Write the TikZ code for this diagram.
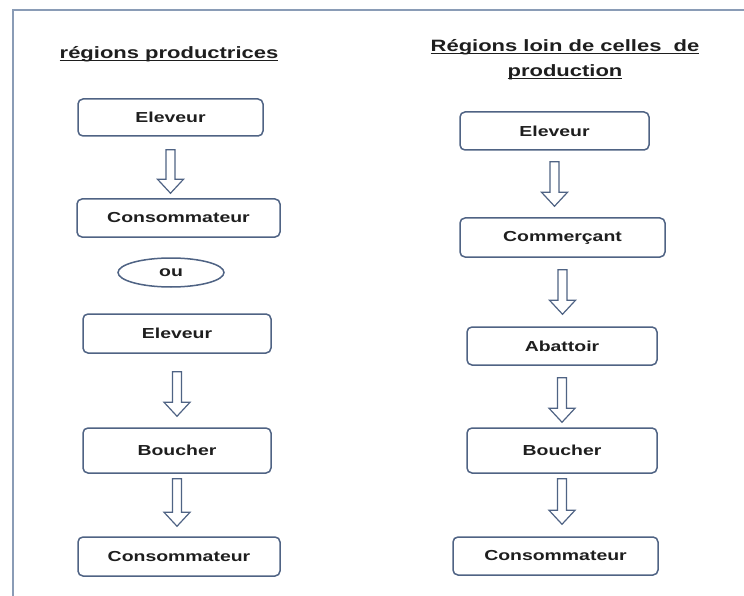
\documentclass[tikz,border=0pt]{standalone}
\usepackage{fontspec}
\usetikzlibrary{shapes.geometric,calc}
\newfontfamily\widefont[FakeStretch=1.34]{Liberation Sans}
\definecolor{framec}{HTML}{8A9CB6}
\definecolor{boxc}{HTML}{4F6384}
\definecolor{txtc}{HTML}{1E1E1E}
\tikzset{
  x=1pt, y=-1pt,
  stepbox/.style={draw=boxc, line width=1.5pt, fill=white, rounded corners=5pt,
    inner sep=0pt, text=txtc, font=\widefont\bfseries\fontsize{14.5}{16}\selectfont},
  ovalbox/.style={ellipse, draw=boxc, line width=1.5pt, fill=white, inner sep=0pt,
    text=txtc, font=\widefont\bfseries\fontsize{14.5}{16}\selectfont},
  titlebox/.style={text=txtc, align=center, inner sep=0pt,
    font=\widefont\bfseries\fontsize{16.4}{25}\selectfont},
  barrow/.style={draw=boxc, line width=1.2pt, fill=white, line join=miter,
    to path={let \p1=(\tikztostart), \p2=(\tikztotarget) in
      (\x1-4.5pt,\y1) -- (\x1+4.5pt,\y1) -- (\x1+4.5pt,\y2+14pt) -- (\x1+13pt,\y2+14pt)
      -- (\x1,\y2) -- (\x1-13pt,\y2+14pt) -- (\x1-4.5pt,\y2+14pt) -- cycle}},
  framel/.style={draw=framec, line width=2pt}
}
\newcommand{\ul}[1]{\underline{\smash{#1}}}
\begin{document}
\begin{tikzpicture}
\useasboundingbox (0,0) rectangle (744,596);
\fill[white] (0,0) rectangle (744,596);
\coordinate (ftr) at (744,10);
\coordinate (ftl) at (13,10);
\coordinate (fbl) at (13,596);
\draw[framel] (ftr) -- (ftl) -- (fbl);

% titles
\node[titlebox] (t1) at (169,60) {\ul{régions productrices}};
\node[titlebox] (t2) at (565,65) {\ul{Régions loin de celles\ \ de}\\\ul{production}};

% left column
\node[stepbox, minimum width=185, minimum height=37] (l1) at (170.5,117.5) {Eleveur};
\node[stepbox, minimum width=203, minimum height=38] (l2) at (178.5,218) {Consommateur};
\node[ovalbox, minimum width=106, minimum height=29] (ou) at (171,272.5) {ou};
\node[stepbox, minimum width=188, minimum height=39] (l3) at (177,333.5) {Eleveur};
\node[stepbox, minimum width=188, minimum height=45] (l4) at (177,450.5) {Boucher};
\node[stepbox, minimum width=202, minimum height=39] (l5) at (179,556.5) {Consommateur};

% right column
\node[stepbox, minimum width=189, minimum height=38] (r1) at (554.5,131) {Eleveur};
\node[stepbox, minimum width=205, minimum height=39] (r2) at (562.5,237.5) {Commerçant};
\node[stepbox, minimum width=190, minimum height=38] (r3) at (562,346) {Abattoir};
\node[stepbox, minimum width=190, minimum height=45] (r4) at (562,450.5) {Boucher};
\node[stepbox, minimum width=205, minimum height=38] (r5) at (555.5,556) {Consommateur};

% block arrows
\draw[barrow] ([yshift=-13pt]l1.south) to ([yshift=5pt]l2.north);
\draw[barrow] ([yshift=-18pt]l3.south) to ([yshift=11pt]l4.north);
\draw[barrow] ([yshift=-5pt]l4.south) to ([yshift=10pt]l5.north);

\draw[barrow] ([yshift=-11pt]r1.south) to ([yshift=11pt]r2.north);
\draw[barrow] ([yshift=-12pt]r2.south) to ([yshift=12pt]r3.north);
\draw[barrow] ([yshift=-12pt]r3.south) to ([yshift=5pt]r4.north);
\draw[barrow] ([yshift=-5pt]r4.south) to ([yshift=12pt]r5.north);
\end{tikzpicture}
\end{document}
